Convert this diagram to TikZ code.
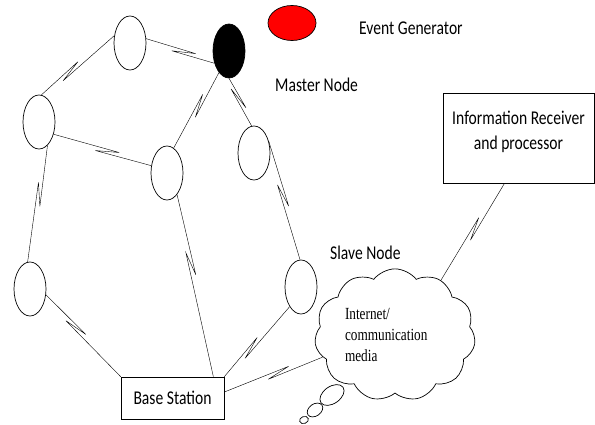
\documentclass[tikz,border=0pt]{standalone}
\usepackage{fontspec}
\setmainfont[FakeStretch=0.8]{Carlito}
\newfontfamily\cloudfont[FakeStretch=0.78]{Liberation Serif}
\usetikzlibrary{calc,shapes.geometric,shapes.symbols}
\tikzset{
    slave/.style={draw, ellipse, line width=0.7pt, minimum width=32pt, minimum height=54pt, inner sep=0pt},
    master/.style={slave, fill=black},
    event/.style={draw, ellipse, line width=0.7pt, fill=red, minimum width=48pt, minimum height=35pt, inner sep=0pt},
    bubble/.style={draw, ellipse, line width=0.7pt, inner sep=0pt},
    tag/.style={anchor=west, inner sep=0pt, font=\fontsize{19.5}{22}\selectfont},
    box/.style={draw, rectangle, line width=0.7pt, font=\fontsize{19.5}{25}\selectfont},
    link/.style={line width=0.7pt, to path={
        -- ($(\tikztostart)!#1!(\tikztotarget)!12pt!13:(\tikztotarget)$)
        -- ($(\tikztostart)!#1!(\tikztotarget)!12pt!13:(\tikztostart)$)
        -- (\tikztotarget)}},
    link/.default=0.5
}
\begin{document}
\begin{tikzpicture}[x=1pt,y=-1pt]
                    \useasboundingbox (0,0) rectangle (595,425);
                    % sensor nodes
                    \node[slave] (n1) at (130,43) {};
                    \node[master] (mn) at (229,51) {};
                    \node[slave] (n2) at (39,122) {};
                    \node[slave] (n3) at (167,173) {};
                    \node[slave] (n4) at (254,153) {};
                    \node[slave] (n5) at (30,289) {};
                    \node[slave] (n6) at (301,287) {};
                    \node[event] (ev) at (292,23) {};
                    % labels
                    \node[tag] (evtag) at (359,28) {Event Generator};
                    \node[tag] (mntag) at (275,85) {Master Node};
                    \node[tag] (sltag) at (330,253) {Slave Node};
                    % base station, cloud, receiver
                    \node[box, minimum width=103pt, minimum height=42pt] (bs) at (172.5,398) {Base Station};
                    \node[box, minimum width=151pt, minimum height=90pt, align=center, text depth=16pt] (info) at (518.5,138) {Information Receiver\\and processor};
                    \node[cloud, draw, line width=0.7pt, cloud puffs=11, cloud puff arc=105, aspect=1.3,
                          minimum width=156pt, minimum height=120pt,
                          text width=100pt, align=left, font=\cloudfont\fontsize{17}{21}\selectfont] (net) at (395,335)
                          {Internet/\\communication\\media};
                    \node[bubble, minimum width=27pt, minimum height=17pt, rotate=35] (b1) at (332,395) {};
                    \node[bubble, minimum width=17pt, minimum height=12pt, rotate=35] (b2) at (315,410) {};
                    \node[bubble, minimum width=9pt, minimum height=7pt, rotate=20] (b3) at (304,420) {};
                    \coordinate (bsin) at ([xshift=-11pt]bs.north east);
                    \coordinate (bsout) at ([yshift=6pt]bs.east);
                    \coordinate (infoin) at ([xshift=-14pt]info.south);
                    % wireless links
                    \draw (n1.155) to[link=0.6] (n2.85);
                    \draw (n1.15) to[link=0.55] (mn.220);
                    \draw (mn.245) to[link=0.44] (n3.75);
                    \draw (mn.270) to[link=0.42] (n4.95);
                    \draw (n2.-40) to[link=0.55] (n3.155);
                    \draw (n2.-70) to[link=0.42] (n5.95);
                    \draw (n3.-65) to[link=0.38] (bsin);
                    \draw (n4.40) to[link=0.46] (n6.92);
                    \draw (n5.-20) to[link=0.4] (bs.north west);
                    \draw (n6.240) to[link=0.59] (bs.north east);
                    \draw (bsout) to[link=0.55] (net.197);
                    \draw (net.50) to[link=0.53] (infoin);
                \end{tikzpicture}
\end{document}
